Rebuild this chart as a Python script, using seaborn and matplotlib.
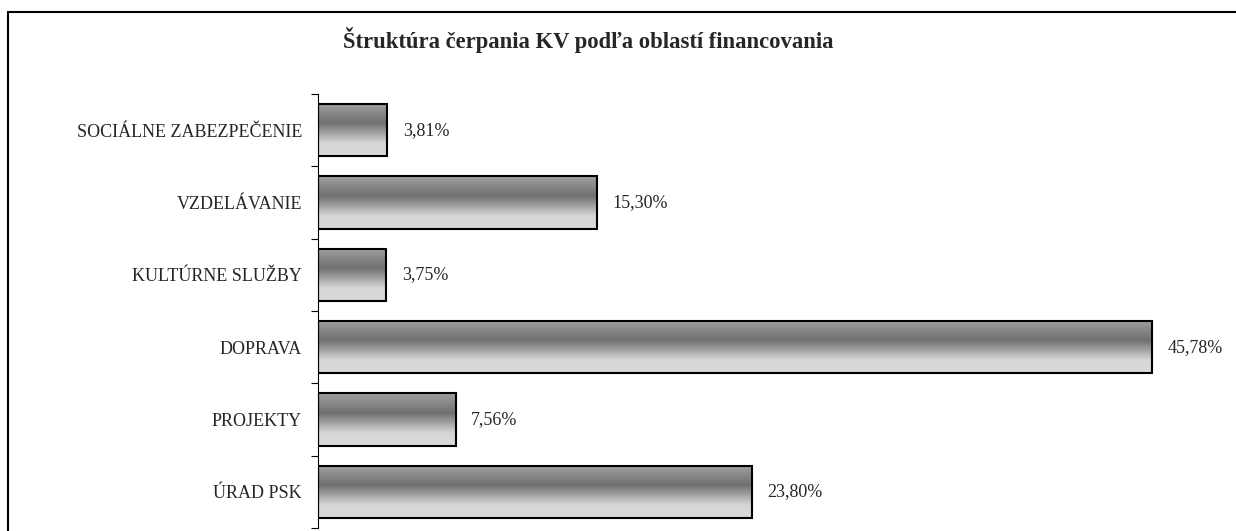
import numpy as np
import pandas as pd
import matplotlib
matplotlib.use('Agg')
import matplotlib.pyplot as plt
import seaborn as sns
from matplotlib.colors import LinearSegmentedColormap

categories = ['SOCIÁLNE ZABEZPEČENIE', 'VZDELÁVANIE', 'KULTÚRNE SLUŽBY',
              'DOPRAVA', 'PROJEKTY', 'ÚRAD PSK']
values = [3.81, 15.30, 3.75, 45.78, 7.56, 23.80]
value_labels = ['3,81%', '15,30%', '3,75%', '45,78%', '7,56%', '23,80%']
title = 'Štruktúra čerpania KV podľa oblastí financovania'

sns.set_theme(style='white')
plt.rcParams['font.family'] = ['Liberation Serif', 'DejaVu Serif']

df = pd.DataFrame({'oblast': categories, 'podiel': values})

fig = plt.figure(figsize=(12.36, 5.31), dpi=100)
ax = fig.add_axes([318 / 1236, 3 / 531, 882 / 1236, 434 / 531])

sns.barplot(data=df, x='podiel', y='oblast', orient='h', ax=ax,
            color='#8a8a8a', width=0.72, edgecolor='black', linewidth=1.5,
            saturation=1)

# vertical gradient inside each bar (light top, dark middle, pale bottom)
grad = LinearSegmentedColormap.from_list('bar_grad', [
    (0.0, '#a0a0a0'), (0.38, '#707070'), (0.75, '#d6d6d6'), (1.0, '#dadada')])
ramp = np.linspace(0, 1, 256).reshape(-1, 1)
for patch in ax.patches:
    x0, y0 = patch.get_x(), patch.get_y()
    w, h = patch.get_width(), patch.get_height()
    im = ax.imshow(ramp, cmap=grad, aspect='auto',
                   extent=(x0, x0 + w, y0 + h, y0), origin='upper', zorder=patch.get_zorder() + 0.1)
    im.set_clip_path(patch)
    patch.set_facecolor('none')
    patch.set_zorder(patch.get_zorder() + 0.2)

for i, (v, lab) in enumerate(zip(values, value_labels)):
    ax.text(v + 0.85, i, lab, va='center', ha='left', fontsize=13)

ax.set_xlim(0, 882 / 18.22)
ax.set_ylim(len(categories) - 0.5, -0.5)
ax.set_xlabel('')
ax.set_ylabel('')
ax.set_xticks([])
ax.set_yticks(np.arange(len(categories)))
ax.set_yticklabels(categories, fontsize=13)
ax.set_yticks(np.arange(len(categories) + 1) - 0.5, minor=True)
ax.tick_params(axis='y', which='major', length=0, pad=11.5)
ax.tick_params(axis='y', which='minor', length=5, width=0.8, color='black', left=True)
for side in ['top', 'right', 'bottom']:
    ax.spines[side].set_visible(False)
ax.spines['left'].set_color('black')
ax.spines['left'].set_linewidth(0.8)

fig.text(588 / 1236, 1 - 40 / 531, title, ha='center', va='center',
         fontsize=16.3, fontweight='bold')

# frame around the chart area
fig.patches.append(plt.Rectangle((8 / 1236, -0.1), 1.2, 1 - 12 / 531 + 0.1,
                                 transform=fig.transFigure, fill=False,
                                 edgecolor='black', linewidth=1.5))

fig.savefig('out.png', dpi=100)
